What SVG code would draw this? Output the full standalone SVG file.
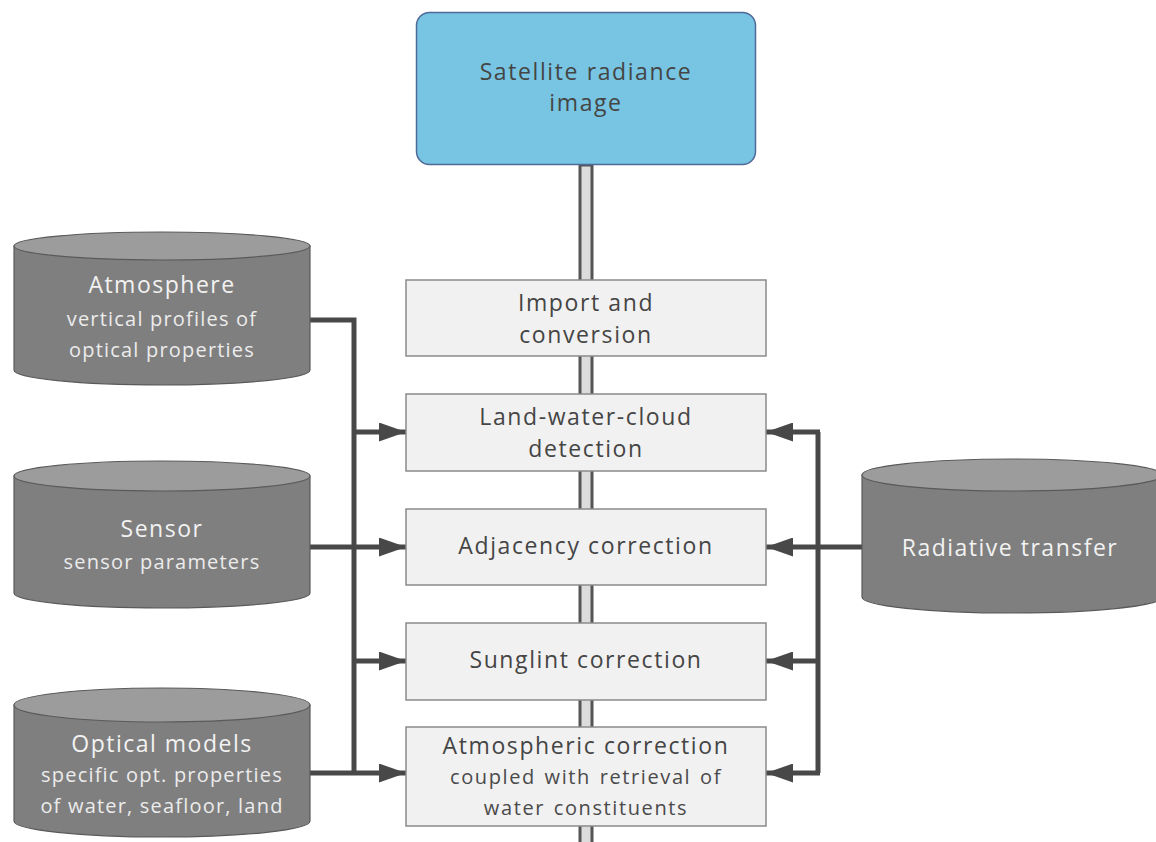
<svg xmlns="http://www.w3.org/2000/svg" width="1156" height="842" viewBox="0 0 1156 842">
<defs>
<marker id="ah" markerWidth="5.4" markerHeight="3.8" refX="5.4" refY="1.9" orient="auto" markerUnits="strokeWidth"><path d="M0,0 L5.4,1.9 L0,3.8 z" fill="#484848"/></marker>
</defs>
<style>
.box{fill:#f1f1f1;stroke:#8a8a8a;stroke-width:1.5}
.cylb{fill:#7f7f7f;stroke:#5a5a5a;stroke-width:1.2}
.cylt{fill:#9c9c9c;stroke:#5a5a5a;stroke-width:1.2}
.t{font-family:"Open Sans","DejaVu Sans",sans-serif;font-size:23px;fill:#454545;text-anchor:middle;letter-spacing:1.6px}
.s{font-family:"Open Sans","DejaVu Sans",sans-serif;font-size:20px;fill:#4a4a4a;text-anchor:middle;letter-spacing:1.6px;word-spacing:2px}
.ct{font-family:"Open Sans","DejaVu Sans",sans-serif;font-size:23px;fill:#f2f2f2;text-anchor:middle;letter-spacing:1.5px}
.cs{font-family:"Open Sans","DejaVu Sans",sans-serif;font-size:20px;fill:#ececec;text-anchor:middle;letter-spacing:1.2px}
.c{fill:none;stroke:#484848;stroke-width:5}
</style>
<rect width="1156" height="842" fill="#ffffff"/>
<g id="pipe">
<rect x="580" y="165" width="12" height="680" fill="#dcdcdc" stroke="#555555" stroke-width="3"/>
</g>
<g id="connectors">
<polyline class="c" points="310,320 354,320 354,773"/>
<line class="c" x1="354" y1="432" x2="406" y2="432" marker-end="url(#ah)"/>
<line class="c" x1="310" y1="547" x2="406" y2="547" marker-end="url(#ah)"/>
<line class="c" x1="354" y1="661" x2="406" y2="661" marker-end="url(#ah)"/>
<line class="c" x1="310" y1="773" x2="406" y2="773" marker-end="url(#ah)"/>
<polyline class="c" points="818,432 818,773"/>
<line class="c" x1="820" y1="432" x2="766" y2="432" marker-end="url(#ah)"/>
<line class="c" x1="862" y1="547" x2="766" y2="547" marker-end="url(#ah)"/>
<line class="c" x1="818" y1="661" x2="766" y2="661" marker-end="url(#ah)"/>
<line class="c" x1="820" y1="773" x2="766" y2="773" marker-end="url(#ah)"/>
</g>
<g id="satellite">
<rect x="416.5" y="12.5" width="339" height="152" rx="13" fill="#77c5e3" stroke="#4f6a96" stroke-width="1.5"/>
<text class="t" x="586" y="80">Satellite radiance</text>
<text class="t" x="586" y="111">image</text>
</g>
<g id="import">
<rect class="box" x="406" y="280" width="360" height="76"/>
<text class="t" x="586" y="311">Import and</text>
<text class="t" x="586" y="343">conversion</text>
</g>
<g id="landwater">
<rect class="box" x="406" y="394" width="360" height="77"/>
<text class="t" x="586" y="425">Land-water-cloud</text>
<text class="t" x="586" y="457">detection</text>
</g>
<g id="adjacency">
<rect class="box" x="406" y="509" width="360" height="76"/>
<text class="t" x="586" y="554">Adjacency correction</text>
</g>
<g id="sunglint">
<rect class="box" x="406" y="623" width="360" height="77"/>
<text class="t" x="586" y="668">Sunglint correction</text>
</g>
<g id="atmcorr">
<rect class="box" x="406" y="727" width="360" height="99"/>
<text class="t" x="586" y="754">Atmospheric correction</text>
<text class="s" x="586" y="784">coupled with retrieval of</text>
<text class="s" x="586" y="815">water constituents</text>
</g>
<g id="atmosphere">
<path class="cylb" d="M14,246 L14,370 A148,15 0 0 0 310,370 L310,246 Z"/>
<ellipse class="cylt" cx="162" cy="246" rx="148" ry="14"/>
<text class="ct" x="162" y="293">Atmosphere</text>
<text class="cs" x="162" y="326">vertical profiles of</text>
<text class="cs" x="162" y="357">optical properties</text>
</g>
<g id="sensor">
<path class="cylb" d="M14,476 L14,593 A148,15 0 0 0 310,593 L310,476 Z"/>
<ellipse class="cylt" cx="162" cy="476" rx="148" ry="15"/>
<text class="ct" x="162" y="537">Sensor</text>
<text class="cs" x="162" y="569">sensor parameters</text>
</g>
<g id="optical">
<path class="cylb" d="M14,705 L14,821 A148,16 0 0 0 310,821 L310,705 Z"/>
<ellipse class="cylt" cx="162" cy="705" rx="148" ry="17"/>
<text class="ct" x="162" y="752">Optical models</text>
<text class="cs" x="162" y="782">specific opt. properties</text>
<text class="cs" x="162" y="813">of water, seafloor, land</text>
</g>
<g id="radiative">
<path class="cylb" d="M862,475 L862,597 A150,16 0 0 0 1162,597 L1162,475 Z"/>
<ellipse class="cylt" cx="1012" cy="475" rx="150" ry="16"/>
<text class="ct" x="1010" y="556">Radiative transfer</text>
</g>
</svg>
